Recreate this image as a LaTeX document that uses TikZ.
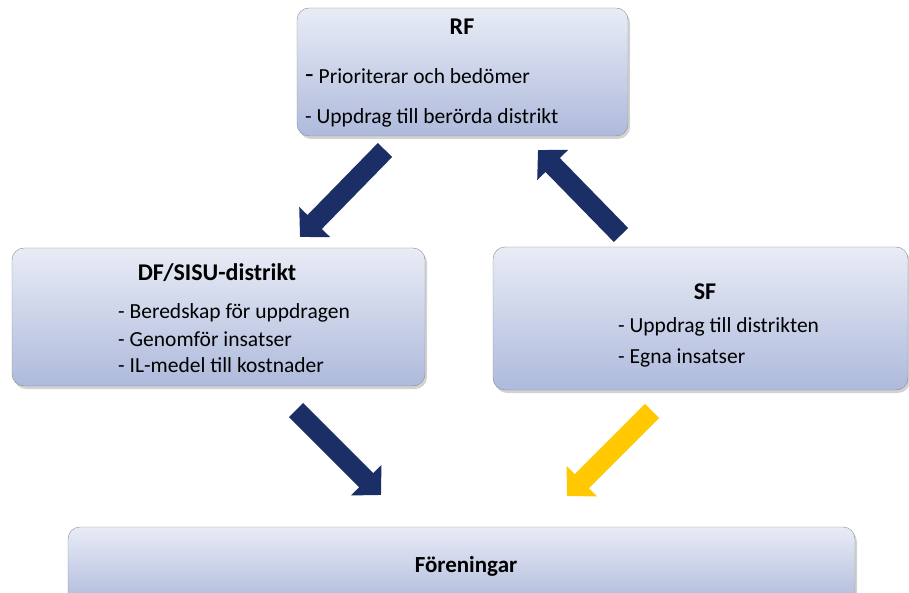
\documentclass[tikz,border=0pt]{standalone}
\usepackage{fontspec}
\setmainfont{Carlito}
\usetikzlibrary{arrows.meta,shadows}
\definecolor{navy}{HTML}{1B2F66}
\definecolor{gold}{HTML}{FFC800}
\definecolor{boxtop}{HTML}{E9ECF6}
\definecolor{boxbot}{HTML}{AEBADC}
\tikzstyle{box} = [rectangle, draw=black!45, rounded corners=12pt,
    top color=boxtop, bottom color=boxbot,
    drop shadow={shadow xshift=2pt,shadow yshift=-3pt,opacity=.35}]
\tikzstyle{title} = [font=\fontsize{24}{28}\selectfont\bfseries]
\tikzstyle{item} = [anchor=west, inner sep=0pt, font=\fontsize{21.5}{25}\selectfont]
\tikzstyle{bigarrow} = [line width=20pt, -{Triangle[width=42pt,length=21pt]}]

\begin{document}
\begin{tikzpicture}[x=1pt,y=-1pt]
  \useasboundingbox (0,0) rectangle (909,593);

  % boxes
  \node[box, minimum width=331pt, minimum height=128pt] (rf)  at (462.5,72)  {};
  \node[box, minimum width=413pt, minimum height=138pt] (df)  at (218.5,317) {};
  \node[box, minimum width=415pt, minimum height=143pt] (sf)  at (700.5,318.5) {};
  \node[box, minimum width=787pt, minimum height=78pt]  (for) at (461.5,566) {};

  % texts
  \node[title] (rft) at (462,27) {RF};
  \node[item]  (rf1) at (305,76) {{\fontsize{28}{28}\selectfont -} Prioriterar och bedömer};
  \node[item]  (rf2) at (305,118) {- Uppdrag till berörda distrikt};

  \node[title] (dft) at (217,273) {DF/SISU-distrikt};
  \node[item]  (df1) at (118,313) {- Beredskap för uppdragen};
  \node[item]  (df2) at (118,339) {- Genomför insatser};
  \node[item]  (df3) at (118,365) {- IL-medel till kostnader};

  \node[title] (sft) at (705,292) {SF};
  \node[item]  (sf1) at (618,327) {- Uppdrag till distrikten};
  \node[item]  (sf2) at (618,358) {- Egna insatser};

  \node[title, font=\fontsize{23}{27}\selectfont\bfseries] (fort) at (466,566) {Föreningar};

  % arrow ends
  \coordinate (a1) at (385,150);  \coordinate (b1) at (300,237);
  \coordinate (a2) at (621,235);  \coordinate (b2) at (538,150);
  \coordinate (a3) at (296,410);  \coordinate (b3) at (381,495);
  \coordinate (a4) at (652,411);  \coordinate (b4) at (567,496);

  \draw[bigarrow, navy] (a1) -- (b1);
  \draw[bigarrow, navy] (a2) -- (b2);
  \draw[bigarrow, navy] (a3) -- (b3);
  \draw[bigarrow, gold] (a4) -- (b4);
\end{tikzpicture}
\end{document}
